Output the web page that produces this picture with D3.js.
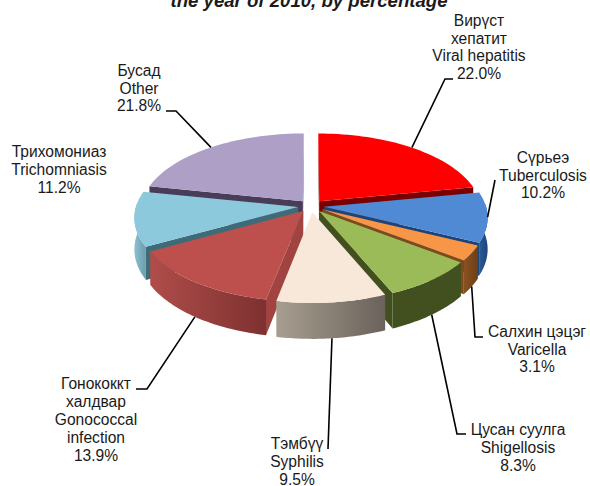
<!DOCTYPE html>
<html>
<head>
<meta charset="utf-8">
<script src="https://cdn.jsdelivr.net/npm/d3@7/dist/d3.min.js"></script>
<style>
  html, body { margin: 0; padding: 0; background: #fff; }
  text { font-family: "Liberation Sans", Arial, sans-serif; fill: #1a1a1a; }
</style>
</head>
<body>
<div id="chart"></div>
<script>
// chart data
const titleText = "the  year of 2010, by percentage"
const labels = [
  ["Вирүст", "хепатит", "Viral hepatitis"],
  ["Сүрьеэ", "Tuberculosis"],
  ["Салхин цэцэг", "Varicella"],
  ["Цусан суулга", "Shigellosis"],
  ["Тэмбүү", "Syphilis"],
  ["Гонококкт", "халдвар", "Gonococcal", "infection"],
  ["Трихомониаз", "Trichomniasis"],
  ["Бусад", "Other"]
]
const values = [22.0, 10.2, 3.1, 8.3, 9.5, 13.9, 11.2, 21.8]

// colours per slice
const topColors = ["#ff0000", "#5089d4", "#f79646", "#9bbb59", "#f8e8da", "#bd4f4c", "#8dc9dc", "#ad9fc6"]
const cutColors = ["#7a0000", "#1d4478", "#7d4a1c", "#42501f", "#a89e90", "#a04341", "#3f6b78", "#483c58"]
const rimLeft = ["#7a0000", "#2a5a98", "#8a5220", "#42501f", "#a89e90", "#b04d4a", "#8cc0d2", "#5b4d70"]
const rimRight = ["#7a0000", "#1d4478", "#6e3f16", "#42501f", "#6a625b", "#7d3130", "#6a9cac", "#5b4d70"]

// label layout: centre x, first baseline y, line step, leader elbow points
const labelPos = [
  {x: 479, y: 26, step: 17.7, leader: [[445, 79], [453, 79]]},
  {x: 543, y: 163, step: 17.6, leader: [[495, 180]]},
  {x: 537, y: 337, step: 17.6, leader: [[475, 337], [483, 337]]},
  {x: 518, y: 435, step: 18, leader: [[457, 434], [466, 434]]},
  {x: 297, y: 449, step: 18, leader: [[328, 449]]},
  {x: 96, y: 389, step: 18, leader: [[147, 389], [136, 389]]},
  {x: 59, y: 157, step: 18, leader: null},
  {x: 139, y: 76, step: 17.6, leader: [[176, 111], [166, 111]]}
]

const width = 590, height = 486
const cx = 311, cy = 206      // pie centre on screen
const R = 162                 // radius
const tilt = 77.5             // screen height of one radius
const persp = 0.127           // perspective strength
const depth = 31              // slice thickness
const explode = 0.08          // in radii

// plane coordinates -> screen
function project(u, v, z) {
  let s = 1 / (1 - persp * v)
  return [cx + u * R * s, cy + v * tilt * s + z * s]
}

const svg = d3.select("#chart").append("svg")
  .attr("width", width)
  .attr("height", height)

const defs = svg.append("defs")

const arcs = d3.pie().sort(null).value(d => d)(values)
  .map((d, i) => {
    d.i = i
    d.mid = (d.startAngle + d.endAngle) / 2
    d.ou = Math.sin(d.mid) * explode
    d.ov = -Math.cos(d.mid) * explode
    return d
  })

function rimPoint(d, a, z) {
  return project(d.ou + Math.sin(a), d.ov - Math.cos(a), z)
}

function rimAngles(d) {
  return d3.range(0, 41).map(k => d.startAngle + (d.endAngle - d.startAngle) * k / 40)
}

const line = d3.line()

function poly(pts) { return line(pts) + "Z" }

// back slices first
const order = arcs.slice().sort((a, b) => Math.cos(b.mid) - Math.cos(a.mid))

order.forEach(d => {
  let g = svg.append("g").attr("class", "slice")
  let apexTop = project(d.ou, d.ov, 0)
  let apexBot = project(d.ou, d.ov, depth)

  // cut walls, only the ones facing the viewer
  let cuts = []
  if (Math.sin(d.startAngle) < 0.02) cuts.push(d.startAngle)
  if (Math.sin(d.endAngle) > -0.02) cuts.push(d.endAngle)
  cuts.forEach(a => {
    g.append("path")
      .attr("d", poly([apexTop, rimPoint(d, a, 0), rimPoint(d, a, depth), apexBot]))
      .attr("fill", cutColors[d.i])
  })

  // outer wall, front facing part only
  let angles = rimAngles(d).filter(a => Math.cos(a) < 0.05)
  if (angles.length > 1) {
    let id = "rim-" + d.i
    let grad = defs.append("linearGradient").attr("id", id)
    grad.append("stop").attr("offset", "0%").attr("stop-color", rimLeft[d.i])
    grad.append("stop").attr("offset", "100%").attr("stop-color", rimRight[d.i])
    let upper = angles.map(a => rimPoint(d, a, 0))
    let lower = angles.map(a => rimPoint(d, a, depth)).reverse()
    g.append("path")
      .attr("d", poly(upper.concat(lower)))
      .attr("fill", "url(#" + id + ")")
  }

  // top face
  g.append("path")
    .attr("d", poly([apexTop].concat(rimAngles(d).map(a => rimPoint(d, a, 0)))))
    .attr("fill", topColors[d.i])
})

// leader lines start on the slice rim, at the bottom edge for front slices
arcs.forEach(d => {
  let pos = labelPos[d.i]
  if (!pos.leader) return
  let front = Math.cos(d.mid) < -0.3
  let start = rimPoint(d, d.mid, front ? depth : 0)
  svg.append("path")
    .attr("d", line([start].concat(pos.leader)))
    .attr("fill", "none")
    .attr("stroke", "#000")
    .attr("stroke-width", 1.6)
})

// labels
arcs.forEach(d => {
  let pos = labelPos[d.i]
  let rows = labels[d.i].concat([d3.format(".1f")(values[d.i]) + "%"])
  let t = svg.append("text")
    .attr("text-anchor", "middle")
    .style("font-size", "15.6px")
  rows.forEach((r, k) => {
    t.append("tspan")
      .attr("x", pos.x)
      .attr("y", pos.y + k * pos.step)
      .text(r)
  })
})

svg.append("text")
  .attr("x", 309)
  .attr("y", 7)
  .attr("text-anchor", "middle")
  .style("font-size", "18.6px")
  .style("font-weight", "bold")
  .style("font-style", "italic")
  .text(titleText)
</script>
</body>
</html>
